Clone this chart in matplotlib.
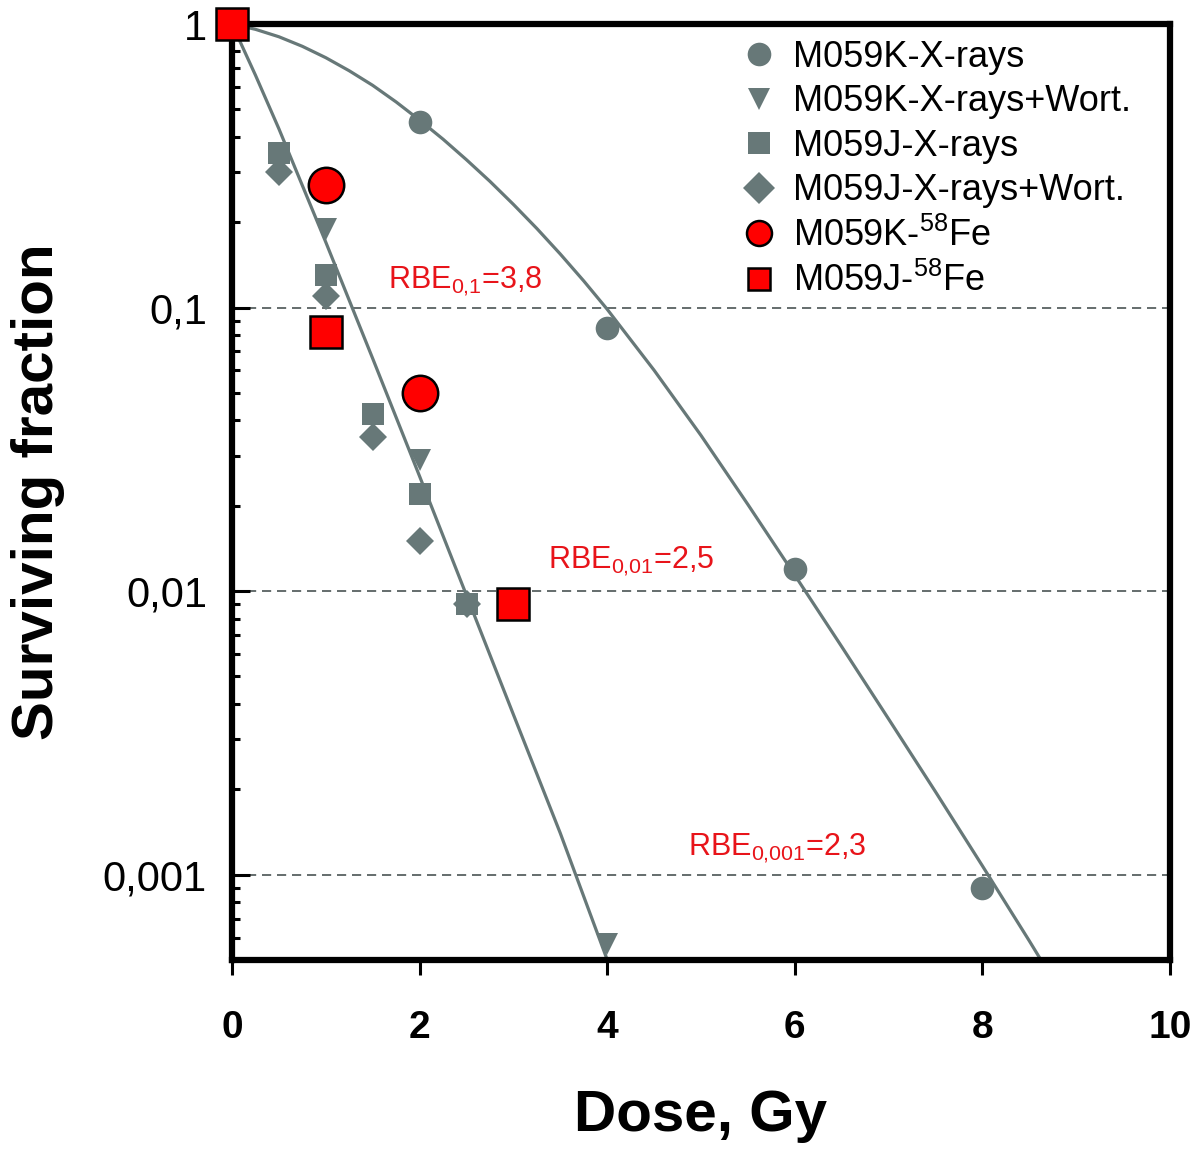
import matplotlib
matplotlib.use('Agg')
import matplotlib.pyplot as plt
from matplotlib.lines import Line2D
from matplotlib.ticker import LogLocator, NullFormatter

plt.rcParams['font.family'] = ['Liberation Sans', 'DejaVu Sans']
plt.rcParams['mathtext.fontset'] = 'custom'
plt.rcParams['mathtext.rm'] = 'Liberation Sans'
plt.rcParams['mathtext.it'] = 'Liberation Sans'
plt.rcParams['mathtext.bf'] = 'Liberation Sans:bold'
plt.rcParams['mathtext.default'] = 'regular'

# ---------------- data ----------------
k_x_dose = [0, 2, 4, 6, 8]
k_x_sf = [1.0, 0.45, 0.085, 0.012, 0.0009]

k_xw_dose = [0, 1, 2, 2.5, 4]
k_xw_sf = [1.0, 0.19, 0.029, 0.009, 0.00057]

j_x_dose = [0, 0.5, 1, 1.5, 2, 2.5]
j_x_sf = [1.0, 0.35, 0.13, 0.042, 0.022, 0.009]

j_xw_dose = [0, 0.5, 1, 1.5, 2, 2.5]
j_xw_sf = [1.0, 0.30, 0.11, 0.035, 0.015, 0.009]

k_fe_dose = [1, 2]
k_fe_sf = [0.27, 0.050]

j_fe_dose = [0, 1, 3]
j_fe_sf = [1.0, 0.082, 0.009]

# fitted curves
fit_k_dose = [0, 0.25, 0.5, 0.75, 1.0, 1.25, 1.5, 1.75, 2.0, 2.25, 2.5, 2.75, 3.0,
              3.25, 3.5, 3.75, 4.0, 4.5, 5.0, 5.5, 6.0, 6.5, 7.0, 7.5, 8.0, 8.5, 8.7]
fit_k_sf = [1.0, 0.9577, 0.9016, 0.8342, 0.7606, 0.6839, 0.6076, 0.5309, 0.4582,
            0.3924, 0.3320, 0.2786, 0.2311, 0.1900, 0.1544, 0.1241, 0.0986, 0.0601,
            0.0354, 0.0202, 0.01138, 0.00637, 0.00354, 0.00196, 0.001074, 0.000584, 0.000455]
fit_j_dose = [0, 0.25, 0.5, 1, 1.5, 2, 2.5, 3, 3.5, 4, 4.05]
fit_j_sf = [1.0, 0.66, 0.427, 0.170, 0.0661, 0.0254, 0.00966, 0.00367, 0.00140, 0.000501, 0.00045]

ref_levels = [0.1, 0.01, 0.001]
rbe_labels = ['RBE$_{0{,}1}$=3,8', 'RBE$_{0{,}01}$=2,5', 'RBE$_{0{,}001}$=2,3']
rbe_pos = [(1.66, 0.117), (3.37, 0.012), (4.86, 0.00117)]

legend_labels = ['M059K-X-rays', 'M059K-X-rays+Wort.', 'M059J-X-rays',
                 'M059J-X-rays+Wort.', 'M059K-$^{58}$Fe', 'M059J-$^{58}$Fe']

yticks = [0.001, 0.01, 0.1, 1]
yticklabels = ['0,001', '0,01', '0,1', '1']
xticks = [0, 2, 4, 6, 8, 10]
xticklabels = ['0', '2', '4', '6', '8', '10']

# ---------------- style ----------------
GRAY = '#677878'
RED = '#ff0000'

fig = plt.figure(figsize=(12, 11.52), dpi=100)
ax = fig.add_axes([232/1200, 1-960/1152, (1170-232)/1200, (960-24)/1152])

ax.set_yscale('log')
ax.set_xlim(0, 10)
ax.set_ylim(5e-4, 1)

for lv in ref_levels:
    ax.axhline(lv, color='#4a5454', lw=1.2, ls=(0, (5.5, 3.5)), zorder=1)

ax.plot(fit_k_dose, fit_k_sf, color=GRAY, lw=2.3, zorder=2)
ax.plot(fit_j_dose, fit_j_sf, color=GRAY, lw=2.3, zorder=2)

mk = dict(ls='none', clip_on=False, zorder=5)
ax.plot(j_xw_dose, j_xw_sf, marker='D', ms=14.3, color=GRAY, mew=0, **mk)
ax.plot(k_xw_dose, k_xw_sf, marker='v', ms=16.5, color=GRAY, mew=0, **mk)
ax.plot(j_x_dose, j_x_sf, marker='s', ms=15.8, color=GRAY, mew=0, **mk)
ax.plot(k_x_dose, k_x_sf, marker='o', ms=17, color=GRAY, mew=0, **mk)
ax.plot(k_fe_dose, k_fe_sf, marker='o', ms=25.5, mfc=RED, mec='black', mew=1.8, **mk)
ax.plot(j_fe_dose, j_fe_sf, marker='s', ms=23, mfc=RED, mec='black', mew=1.8, **mk)

for lab, (x, y) in zip(rbe_labels, rbe_pos):
    ax.text(x, y, lab, color='#e8141a', fontsize=22, ha='left', va='baseline')

# legend with proxy handles
handles = [
    Line2D([], [], ls='none', marker='o', ms=17, color=GRAY, mew=0),
    Line2D([], [], ls='none', marker='v', ms=16, color=GRAY, mew=0),
    Line2D([], [], ls='none', marker='s', ms=16, color=GRAY, mew=0),
    Line2D([], [], ls='none', marker='D', ms=16, color=GRAY, mew=0),
    Line2D([], [], ls='none', marker='o', ms=18, mfc=RED, mec='black', mew=1.8),
    Line2D([], [], ls='none', marker='s', ms=16, mfc=RED, mec='black', mew=1.8),
]
fig.legend(handles, legend_labels, loc='upper left', bbox_to_anchor=(742/1200, 1-40/1152),
           frameon=False, fontsize=26, handlelength=0.95, handletextpad=0.45,
           labelspacing=0.26, borderpad=0, borderaxespad=0)

# spines
for s in ax.spines.values():
    s.set_linewidth(4.5)
    s.set_color('black')

# ticks
ax.set_yticks(yticks)
ax.set_yticklabels(yticklabels)
ax.yaxis.set_minor_locator(LogLocator(base=10, subs=[2, 3, 4, 5, 6, 7, 8, 9], numticks=20))
ax.yaxis.set_minor_formatter(NullFormatter())
ax.tick_params(axis='y', which='major', direction='in', length=13, width=2.2,
               labelsize=30, pad=18, right=False)
ax.tick_params(axis='y', which='minor', direction='in', length=6, width=2.2, right=False)
ax.set_xticks(xticks)
ax.set_xticklabels(xticklabels)
ax.tick_params(axis='x', which='major', direction='out', length=11, width=2.2,
               labelsize=28, pad=25, top=False)
ax.tick_params(axis='x', which='minor', bottom=False, top=False)
for t in ax.get_xticklabels():
    t.set_fontweight('bold')

ax.set_xlabel('Dose, Gy', fontsize=42, fontweight='bold')
ax.set_ylabel('Surviving fraction', fontsize=42, fontweight='bold')
ax.xaxis.set_label_coords(0.5, -0.138)
ax.yaxis.set_label_coords(-0.178, 0.5)

fig.savefig('out.png', dpi=100)
